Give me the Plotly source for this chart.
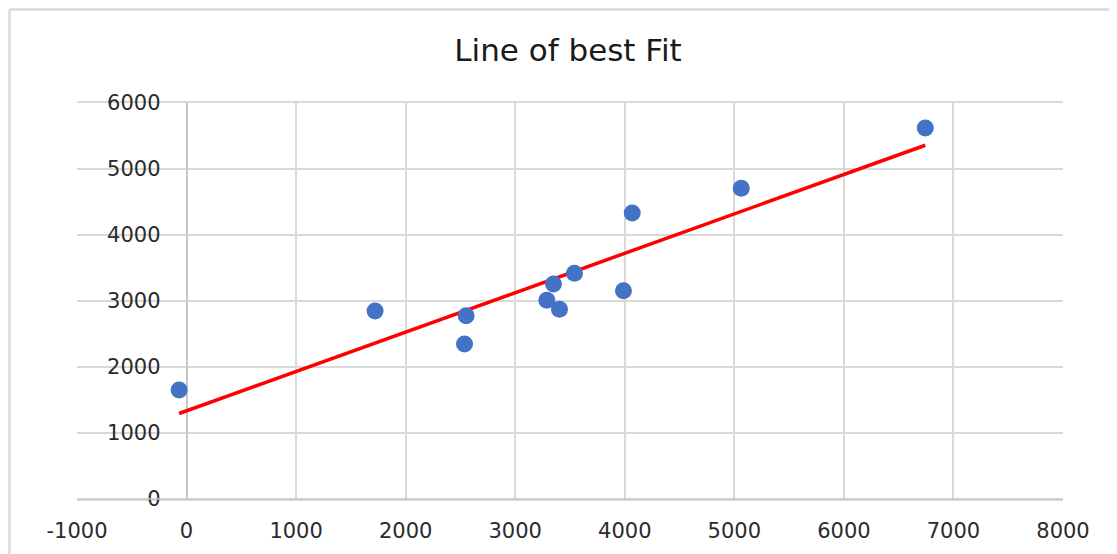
import numpy as np
import plotly.graph_objects as go

# Data
x_values = [-68, 1721, 2552, 2537, 3289, 3349, 3404, 3541, 3988, 4068, 5063, 6743]
y_values = [1651, 2850, 2775, 2347, 3012, 3259, 2876, 3421, 3157, 4332, 4710, 5622]
x_ticks = [-1000, 0, 1000, 2000, 3000, 4000, 5000, 6000, 7000, 8000]
y_ticks = [0, 1000, 2000, 3000, 4000, 5000, 6000]
title_text = "Line of best Fit"

# Linear trendline (least squares) over the data range
slope, intercept = np.polyfit(x_values, y_values, 1)
trend_x = [min(x_values), max(x_values)]
trend_y = [slope * v + intercept for v in trend_x]

fig = go.Figure()
fig.add_trace(go.Scatter(
    x=trend_x, y=trend_y, mode="lines",
    line=dict(color="#FF0000", width=3.5), hoverinfo="skip", showlegend=False,
))
fig.add_trace(go.Scatter(
    x=x_values, y=y_values, mode="markers",
    marker=dict(color="#4472C4", size=17, line=dict(width=0)), showlegend=False,
))

# page body has an 8px margin; work in window pixels and convert
OFF = 8
W, H = 1117 - OFF, 554 - OFF
ml, mr, mt, mb = 77 - OFF, 54, 103 - OFF, 54.5
pw, ph = W - ml - mr, H - mt - mb

def wx(px):  # window x pixel -> paper
    return (px - OFF - ml) / pw

def wy(py):  # window y pixel -> paper
    return (H - mb - (py - OFF)) / ph

tick_font = dict(family="DejaVu Sans", size=21, color="#2b2b2b")

fig.update_layout(
    width=W, height=H,
    margin=dict(l=ml, r=mr, t=mt, b=mb, pad=0),
    paper_bgcolor="white", plot_bgcolor="white",
    title=dict(text=title_text, x=(568 - OFF) / W, xanchor="center",
               y=1 - (50 - OFF) / H, yanchor="middle",
               font=dict(family="DejaVu Sans", size=31, color="#1a1a1a")),
    xaxis=dict(
        range=[-1000, 8000], tickvals=x_ticks, ticktext=[str(v) for v in x_ticks],
        showgrid=True, gridcolor="#d9d9d9", gridwidth=1.5,
        zeroline=True, zerolinecolor="#c6c6c6", zerolinewidth=1.5,
        showline=True, linecolor="#d9d9d9", linewidth=1.5, mirror=True,
        ticks="", tickfont=tick_font, ticklabelstandoff=12,
    ),
    yaxis=dict(
        range=[0, 6000], tickvals=y_ticks, ticktext=[str(v) for v in y_ticks],
        showgrid=True, gridcolor="#d9d9d9", gridwidth=1.5,
        zeroline=True, zerolinecolor="#c6c6c6", zerolinewidth=1.5,
        showline=False,
        anchor="free", position=1000 / 9000,
        ticks="", tickfont=tick_font, ticklabelstandoff=26,
    ),
    shapes=[
        dict(type="line", xref="paper", yref="paper",
             x0=wx(9.5), x1=wx(9.5), y0=wy(9.5), y1=wy(600),
             line=dict(color="#d9d9d9", width=2.5)),
        dict(type="line", xref="paper", yref="paper",
             x0=wx(9.5), x1=wx(1200), y0=wy(9.5), y1=wy(9.5),
             line=dict(color="#d9d9d9", width=2.5)),
        dict(type="line", xref="paper", yref="paper",
             x0=0, x1=1, y0=0, y1=0,
             line=dict(color="#c6c6c6", width=1.5)),
    ],
)

fig.write_html("out.html")
